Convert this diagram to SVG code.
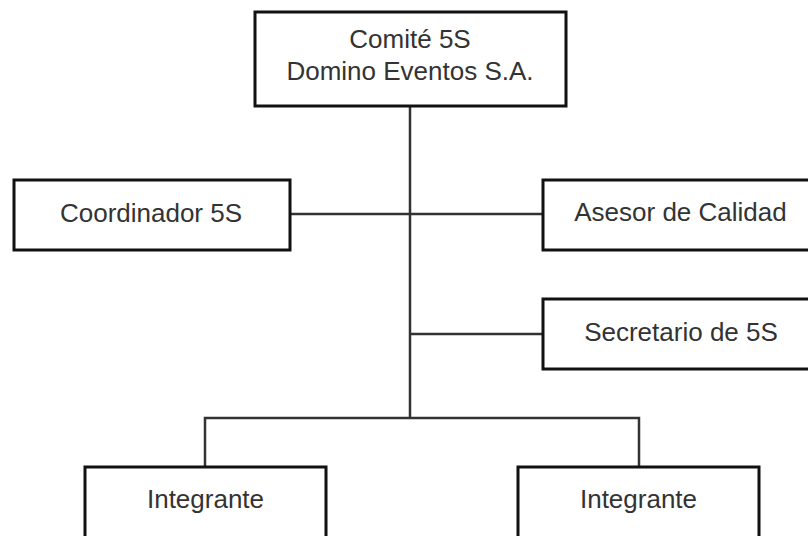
<svg xmlns="http://www.w3.org/2000/svg" width="808" height="536" viewBox="0 0 808 536">
<style>
.box{fill:#fff;stroke:#111;stroke-width:3}
.lbl{font-family:"Liberation Sans",Arial,sans-serif;font-size:26px;fill:#333;text-anchor:middle}
.con{fill:none;stroke:#333;stroke-width:2.5}
</style>
<rect width="808" height="536" fill="#fff"/>
<g id="connectors">
<path class="con" d="M410 106V418"/>
<path class="con" d="M290 214H543"/>
<path class="con" d="M410 334H543"/>
<path class="con" d="M205 467V418H639V467"/>
</g>
<g id="comite">
<rect class="box" x="255" y="12" width="311" height="94"/>
<text class="lbl" x="410" y="48">Comité 5S</text>
<text class="lbl" x="410" y="80">Domino Eventos S.A.</text>
</g>
<g id="coordinador">
<rect class="box" x="14" y="180" width="276" height="70"/>
<text class="lbl" x="151" y="222">Coordinador 5S</text>
</g>
<g id="asesor">
<rect class="box" x="543" y="180" width="275" height="70"/>
<text class="lbl" x="680.5" y="221">Asesor de Calidad</text>
</g>
<g id="secretario">
<rect class="box" x="543" y="299" width="275" height="70"/>
<text class="lbl" x="681" y="341">Secretario de 5S</text>
</g>
<g id="integrante1">
<rect class="box" x="85" y="467" width="241" height="90"/>
<text class="lbl" x="205.5" y="508">Integrante</text>
</g>
<g id="integrante2">
<rect class="box" x="518" y="467" width="241" height="90"/>
<text class="lbl" x="638.5" y="508">Integrante</text>
</g>
</svg>
